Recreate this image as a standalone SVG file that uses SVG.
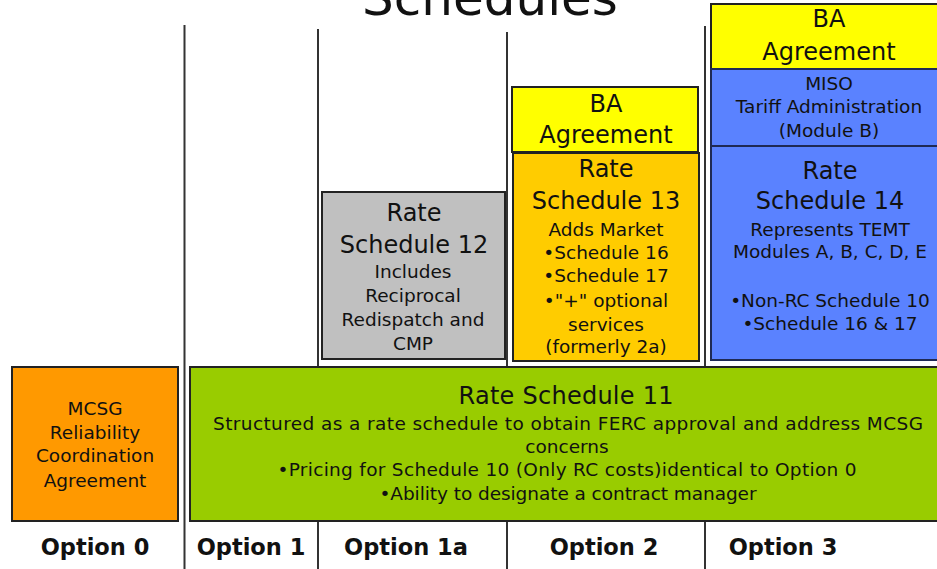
<svg xmlns="http://www.w3.org/2000/svg" width="937" height="569" viewBox="0 0 937 569">
  <style>
    text { font-family: "DejaVu Sans", Verdana, sans-serif; fill: #111; text-anchor: middle; }
    .title { font-size: 50px; }
    .big { font-size: 24px; }
    .sm { font-size: 18.5px; }
    .opt { font-size: 22.5px; font-weight: bold; }
    .divider { stroke: #333; stroke-width: 2; fill: none; }
    .box { stroke: #222; stroke-width: 2; }
    .ba { fill: #FFFF00; }
    .blue { fill: #5A82FF; stroke: #1F2A55; stroke-width: 2; }
  </style>
  <rect width="937" height="569" fill="#FFFFFF"/>

  <text class="title" x="490" y="15">Schedules</text>

  <!-- column dividers between options -->
  <g id="connectors">
    <line class="divider" x1="184.5" y1="25" x2="184.5" y2="569"/>
    <line class="divider" x1="318" y1="29" x2="318" y2="569"/>
    <line class="divider" x1="507" y1="32" x2="507" y2="569"/>
    <line class="divider" x1="705" y1="26" x2="705" y2="569"/>
  </g>

  <g id="option0-mcsg">
    <rect class="box" x="12" y="367" width="166" height="154" fill="#FF9900"/>
    <text class="sm" x="95" y="415">MCSG</text>
    <text class="sm" x="95" y="439">Reliability</text>
    <text class="sm" x="95" y="462">Coordination</text>
    <text class="sm" x="95" y="487">Agreement</text>
  </g>

  <g id="rate-schedule-11">
    <rect class="box" x="190" y="367" width="760" height="154" fill="#99CC00"/>
    <text class="big" x="566" y="404" textLength="215" lengthAdjust="spacing">Rate Schedule 11</text>
    <text class="sm" x="568" y="430" textLength="710" lengthAdjust="spacing">Structured as a rate schedule to obtain FERC approval and address MCSG</text>
    <text class="sm" x="567" y="453">concerns</text>
    <text class="sm" x="567" y="476" textLength="579" lengthAdjust="spacing">•Pricing for Schedule 10 (Only RC costs)identical to Option 0</text>
    <text class="sm" x="568" y="500" textLength="377" lengthAdjust="spacing">•Ability to designate a contract manager</text>
  </g>

  <g id="rate-schedule-12">
    <rect class="box" x="322" y="192" width="183" height="167" fill="#C0C0C0"/>
    <text class="big" x="414" y="221">Rate</text>
    <text class="big" x="414" y="253">Schedule 12</text>
    <text class="sm" x="413" y="278">Includes</text>
    <text class="sm" x="413" y="302">Reciprocal</text>
    <text class="sm" x="413" y="326">Redispatch and</text>
    <text class="sm" x="413" y="350">CMP</text>
  </g>

  <g id="ba-agreement-2">
    <rect class="box ba" x="512" y="87" width="186" height="65"/>
    <text class="big" x="606" y="112">BA</text>
    <text class="big" x="606" y="143">Agreement</text>
  </g>

  <g id="rate-schedule-13">
    <rect class="box" x="513" y="153" width="186" height="208" fill="#FFCC00"/>
    <text class="big" x="606" y="177">Rate</text>
    <text class="big" x="606" y="209">Schedule 13</text>
    <text class="sm" x="606" y="236">Adds Market</text>
    <text class="sm" x="606" y="259">•Schedule 16</text>
    <text class="sm" x="606" y="282">•Schedule 17</text>
    <text class="sm" x="606" y="307">•"+" optional</text>
    <text class="sm" x="606" y="331">services</text>
    <text class="sm" x="606" y="353">(formerly 2a)</text>
  </g>

  <g id="ba-agreement-3">
    <rect class="box ba" x="711" y="4" width="240" height="65"/>
    <text class="big" x="829" y="27">BA</text>
    <text class="big" x="829" y="60">Agreement</text>
  </g>

  <g id="miso-tariff-admin">
    <rect class="blue" x="711" y="69" width="240" height="77"/>
    <text class="sm" x="829" y="90">MISO</text>
    <text class="sm" x="829" y="113">Tariff Administration</text>
    <text class="sm" x="829" y="137">(Module B)</text>
  </g>

  <g id="rate-schedule-14">
    <rect class="blue" x="711" y="146" width="240" height="214"/>
    <text class="big" x="830" y="179">Rate</text>
    <text class="big" x="830" y="209">Schedule 14</text>
    <text class="sm" x="830" y="236">Represents TEMT</text>
    <text class="sm" x="830" y="258">Modules A, B, C, D, E</text>
    <text class="sm" x="830" y="307">•Non-RC Schedule 10</text>
    <text class="sm" x="830" y="330">•Schedule 16 &amp; 17</text>
  </g>

  <g id="option-labels">
    <text class="opt" x="95" y="555">Option 0</text>
    <text class="opt" x="251" y="555">Option 1</text>
    <text class="opt" x="406" y="555">Option 1a</text>
    <text class="opt" x="604" y="555">Option 2</text>
    <text class="opt" x="783" y="555">Option 3</text>
  </g>
</svg>
